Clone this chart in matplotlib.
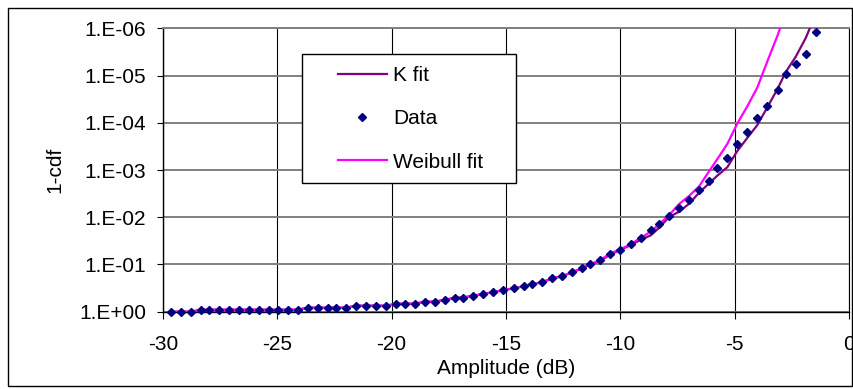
import matplotlib
matplotlib.use("Agg")
import matplotlib.pyplot as plt
from matplotlib.patches import Rectangle
from matplotlib.ticker import FixedLocator, FuncFormatter, NullLocator
import numpy as np

plt.rcParams["font.family"] = ["Liberation Sans", "DejaVu Sans"]
plt.rcParams["axes.unicode_minus"] = False

# Amplitude bins (dB)
amp_db = [-29.66, -29.21, -28.78, -28.34, -27.98, -27.54, -27.10, -26.66, -26.23, -25.79,
          -25.35, -24.97, -24.53, -24.10, -23.66, -23.22, -22.78, -22.42, -21.98, -21.55,
          -21.11, -20.67, -20.23, -19.80, -19.40, -18.98, -18.56, -18.11, -17.67, -17.24,
          -16.87, -16.44, -15.99, -15.56, -15.12, -14.66, -14.23, -13.86, -13.43, -12.99,
          -12.55, -12.11, -11.68, -11.31, -10.88, -10.44, -10.00, -9.55, -9.11, -8.66,
          -8.30, -7.86, -7.42, -6.98, -6.55, -6.11, -5.76, -5.32, -4.89, -4.45,
          -4.01, -3.57, -3.12, -2.77, -2.33, -1.89, -1.46]

# Empirical 1-cdf
data_ccdf = [1.0, 1.0, 1.0, 0.908, 0.908, 0.908, 0.908, 0.908, 0.908, 0.908,
             0.908, 0.908, 0.908, 0.908, 0.822, 0.822, 0.822, 0.822, 0.822, 0.746,
             0.746, 0.746, 0.746, 0.678, 0.678, 0.678, 0.614, 0.614, 0.557, 0.506,
             0.506, 0.458, 0.416, 0.378, 0.342, 0.310, 0.282, 0.255, 0.232, 0.191,
             0.173, 0.142, 0.117, 0.0964, 0.0804, 0.0592, 0.0486, 0.0363, 0.0271, 0.0184,
             0.0137, 0.00927, 0.00628, 0.00426, 0.00261, 0.00167, 0.000893, 0.000548, 0.000277, 0.000155,
             7.80e-5, 4.35e-5, 2.00e-5, 9.14e-6, 5.61e-6, 3.44e-6, 1.18e-6]

# K-distribution fit
k_fit = [1.0, 1.0, 1.0, 0.908, 0.908, 0.908, 0.908, 0.908, 0.908, 0.908,
         0.908, 0.908, 0.908, 0.908, 0.822, 0.822, 0.822, 0.822, 0.822, 0.746,
         0.746, 0.746, 0.746, 0.678, 0.678, 0.678, 0.614, 0.614, 0.557, 0.51,
         0.50, 0.46, 0.42, 0.385, 0.35, 0.32, 0.29, 0.262, 0.24, 0.20,
         0.178, 0.148, 0.122, 0.100, 0.083, 0.062, 0.049, 0.039, 0.030, 0.024,
         0.0166, 0.0098, 0.0076, 0.0051, 0.0030, 0.0019, 0.00132, 0.00087, 0.00040, 0.00021,
         0.000112, 4.7e-5, 1.9e-5, 8.5e-6, 4.0e-6, 1.6e-6, 5.0e-7]

# Weibull fit (first 64 bins)
weibull_fit = [1.0, 1.0, 1.0, 0.908, 0.908, 0.908, 0.908, 0.908, 0.908, 0.908,
               0.908, 0.908, 0.908, 0.908, 0.822, 0.822, 0.822, 0.822, 0.822, 0.746,
               0.746, 0.746, 0.746, 0.678, 0.678, 0.678, 0.614, 0.614, 0.56, 0.51,
               0.50, 0.46, 0.42, 0.385, 0.35, 0.318, 0.288, 0.26, 0.236, 0.196,
               0.176, 0.145, 0.119, 0.098, 0.081, 0.058, 0.048, 0.037, 0.0275, 0.020,
               0.0141, 0.0089, 0.0052, 0.0035, 0.0022, 0.00105, 0.00059, 0.00028, 0.000105, 4.5e-5,
               1.8e-5, 5.0e-6, 1.4e-6, 4.5e-7]

x_ticks = [-30, -25, -20, -15, -10, -5, 0]
y_ticks = [1e0, 1e-1, 1e-2, 1e-3, 1e-4, 1e-5, 1e-6]

W, H = 854, 389
fig = plt.figure(figsize=(W / 100, H / 100), dpi=100)
fig.patch.set_facecolor("white")

def fx(px):
    return px / W

def fy(py):
    return 1 - py / H

left, right, top, bottom = 163, 849, 28.3, 311.7
ax = fig.add_axes([fx(left), fy(bottom), (right - left) / W, (bottom - top) / H])

ax.plot(amp_db, k_fit, color="#800080", lw=1.6, zorder=3, label="K fit")
ax.plot(amp_db, data_ccdf, linestyle="none", marker="D", markersize=4.2,
        color="#000080", zorder=4, clip_on=False, label="Data")
ax.plot(amp_db[:len(weibull_fit)], weibull_fit, color="#FF00FF", lw=1.6, zorder=3,
        label="Weibull fit")

ax.set_yscale("log")
ax.set_ylim(1e0, 1e-6)
ax.set_xlim(-30, 0)
ax.xaxis.set_major_locator(FixedLocator(x_ticks))
ax.xaxis.set_major_formatter(FuncFormatter(lambda v, p: f"{v:.0f}"))
ax.yaxis.set_major_locator(FixedLocator(y_ticks))
ax.yaxis.set_minor_locator(NullLocator())
ax.yaxis.set_major_formatter(FuncFormatter(lambda v, p: f"1.E{int(round(np.log10(v))):+03d}"))

ax.grid(True, axis="x", color="black", lw=0.8, zorder=1)
ax.grid(True, axis="y", color="#808080", lw=1.4, zorder=1)
ax.set_axisbelow(True)

for side in ("left", "bottom"):
    ax.spines[side].set_color("black")
    ax.spines[side].set_linewidth(1.0)
ax.spines["top"].set_color("#808080")
ax.spines["top"].set_linewidth(1.4)
ax.spines["right"].set_color("black")
ax.spines["right"].set_linewidth(0.8)

ax.tick_params(axis="y", direction="out", length=4, width=0.8, pad=8, labelsize=15)
ax.tick_params(axis="x", direction="out", length=5, width=0.8, pad=12, labelsize=15)

ax.set_xlabel("Amplitude (dB)", fontsize=15)
ax.xaxis.set_label_coords(0.5, (fy(369) - fy(bottom)) / ((bottom - top) / H))
ax.xaxis.label.set_va("center")
ax.set_ylabel("1-cdf", fontsize=15)
ax.yaxis.set_label_coords((fx(55) - fx(left)) / ((right - left) / W), 0.5)
ax.yaxis.label.set_va("center")

# Legend frame
box = Rectangle((fx(302), fy(183)), fx(516) - fx(302), fy(54) - fy(183),
                transform=fig.transFigure, facecolor="white", edgecolor="black",
                lw=1.0, zorder=4.5, clip_on=False)
ax.add_artist(box)

leg = ax.legend(loc="upper left", bbox_to_anchor=(fx(337.7), fy(66)),
                bbox_transform=fig.transFigure, frameon=False, fontsize=15,
                handlelength=2.35, handletextpad=0.3, labelspacing=1.17,
                borderpad=0, borderaxespad=0, markerscale=1.0)
leg.set_zorder(5)

# Outer chart border
fig.add_artist(Rectangle((fx(8), fy(386)), fx(852) - fx(8), fy(8) - fy(386),
                         transform=fig.transFigure, fill=False, edgecolor="black",
                         lw=1.0))

fig.savefig("out.png", dpi=100, facecolor="white")
